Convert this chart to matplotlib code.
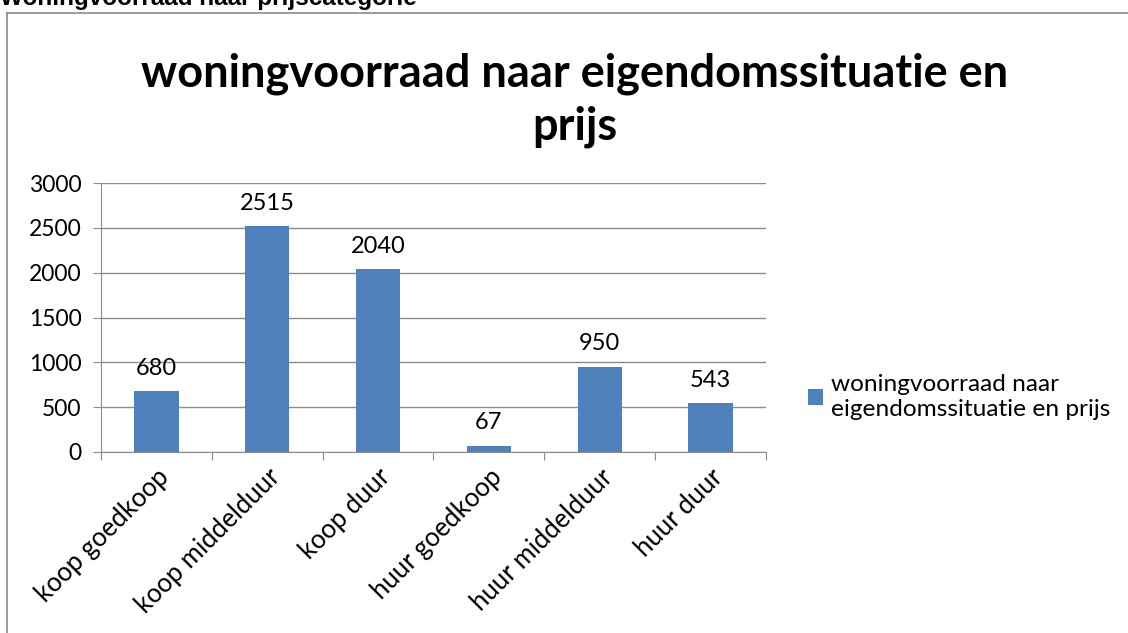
import matplotlib
matplotlib.use("Agg")
import matplotlib.pyplot as plt
from matplotlib.lines import Line2D
import numpy as np

categories = ["koop goedkoop", "koop middelduur", "koop duur",
              "huur goedkoop", "huur middelduur", "huur duur"]
values = [680, 2515, 2040, 67, 950, 543]
series_name = "woningvoorraad naar\neigendomssituatie en prijs"
chart_title = "woningvoorraad naar eigendomssituatie en\nprijs"
sheet_title = "Woningvoorraad naar prijscategorie"
y_ticks = [0, 500, 1000, 1500, 2000, 2500, 3000]

BAR = "#4F81BD"
GRID = "#8C8C8C"
FONT = "Lato"
FS = 16.5

fig = plt.figure(figsize=(11.28, 6.33), dpi=100)
ax = fig.add_axes([101 / 1128, 1 - 452 / 633, 665 / 1128, 269 / 633])

x = np.arange(len(categories))
bars = ax.bar(x, values, width=0.4, color=BAR, zorder=3, label=series_name)

for xi, v in zip(x, values):
    ax.annotate(str(v), (xi, v), xytext=(0, 9), textcoords="offset points",
                ha="center", va="bottom", fontsize=17, family=FONT)

ax.set_xlim(-0.5, len(categories) - 0.5)
ax.set_ylim(0, 3000)
ax.set_yticks(y_ticks)
ax.set_yticklabels([str(t) for t in y_ticks], fontsize=FS, family=FONT)
ax.yaxis.grid(True, color=GRID, linewidth=1, zorder=0)

# category boundaries as ticks, labels at bar centres
ax.set_xticks(np.arange(len(categories) + 1) - 0.5)
ax.set_xticklabels([])
ax.set_xticks(x, minor=True)
ax.set_xticklabels(categories, minor=True, rotation=45, ha="right",
                   rotation_mode="anchor", fontsize=18.5, family=FONT)
ax.tick_params(axis="x", which="minor", length=0, pad=9)
ax.tick_params(axis="x", which="major", length=6, color=GRID, direction="out")
ax.tick_params(axis="y", length=6, color=GRID, direction="out", pad=8)

for s in ["top", "right"]:
    ax.spines[s].set_visible(False)
for s in ["left", "bottom"]:
    ax.spines[s].set_color(GRID)

fig.text(575 / 1128, 1 - 100 / 633, chart_title, ha="center", va="center",
         fontsize=32.5, fontweight="bold", family=FONT, linespacing=1.3)

ax.legend(loc="center left", bbox_to_anchor=(798 / 1128, 1 - 397 / 633),
          bbox_transform=fig.transFigure, frameon=False, handlelength=0.62,
          handleheight=0.62, handletextpad=0.35, borderaxespad=0,
          prop={"family": FONT, "size": 17.6})

# outer frame of the chart object (top and left edges visible)
fig.add_artist(Line2D([7 / 1128, 7 / 1128], [0, 1 - 13 / 633],
                      transform=fig.transFigure, color="#8C8C8C", lw=1.2))
fig.add_artist(Line2D([7 / 1128, 1], [1 - 13 / 633, 1 - 13 / 633],
                      transform=fig.transFigure, color="#8C8C8C", lw=1.2))

fig.text(0.0, 1 - 5 / 633, sheet_title, ha="left", va="baseline",
         fontsize=17.5, fontweight="bold", family="Liberation Sans")

fig.savefig("out.png", dpi=100)
